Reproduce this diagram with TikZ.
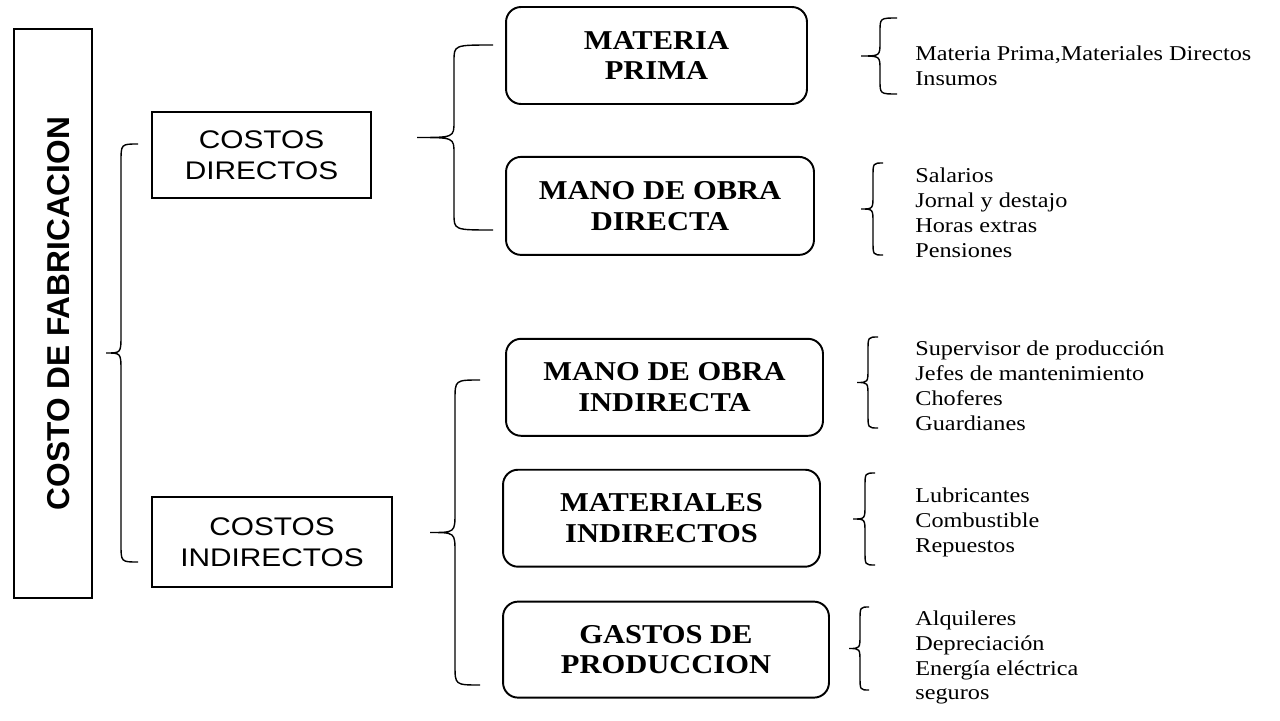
\documentclass[tikz,border=0pt]{standalone}
\usepackage{fontspec}
\setmainfont{Liberation Serif}
\newfontfamily\cajafont[FakeStretch=1.17]{Liberation Sans}
\newfontfamily\titulofont{Liberation Sans}
\newfontfamily\rubrofont[FakeStretch=1.12]{Liberation Serif}
\newfontfamily\listafont[FakeStretch=1.15]{Liberation Serif}
\usetikzlibrary{positioning}

% llave: top end, end-to-spine, spine-to-tip, curl, half length
\newcommand{\llave}[5]{\draw[llave] (#1) .. controls +(-#2,0) and +(0,-#4) .. ++(-#2,#4)
    -- ++(0,#5-2*#4) .. controls +(0,#4) and +(#3,0) .. ++(-#3,#4)
    .. controls +(#3,0) and +(0,-#4) .. ++(#3,#4)
    -- ++(0,#5-2*#4) .. controls +(0,#4) and +(-#2,0) .. ++(#2,#4);}

\begin{document}
\begin{tikzpicture}[x=0.02cm, y=-0.02cm,
    caja/.style={draw, line width=1.1pt, align=center, inner sep=0pt},
    costos/.style={caja, font=\cajafont\fontsize{14.5}{17.5}\selectfont},
    rubro/.style={caja, rounded corners=0.3cm, font=\rubrofont\bfseries\fontsize{15.5}{17.5}\selectfont},
    lista/.style={anchor=west, align=left, inner sep=0pt, font=\listafont\fontsize{12}{14.2}\selectfont},
    llave/.style={line width=0.8pt}]
        \useasboundingbox (0,0) rectangle (1280,720);
        % \draw[help lines] (0,0) grid[step=50] (1280,720);
        \node[caja, rotate=90, minimum width=11.38cm, minimum height=1.56cm, text height=19pt, text depth=0pt, font=\titulofont\bfseries\fontsize{18}{20}\selectfont] (costo) at (53,313.5) {COSTO DE FABRICACION};

        \node[costos, minimum width=4.38cm, minimum height=1.72cm] (directos) at (261.5,155) {COSTOS\\DIRECTOS};
        \node[costos, minimum width=4.8cm, minimum height=1.8cm] (indirectos) at (272,542) {COSTOS\\INDIRECTOS};

        \node[rubro, minimum width=6.02cm, minimum height=1.94cm] (mp) at (656.5,55.5) {MATERIA\\PRIMA};
        \node[rubro, minimum width=6.16cm, minimum height=1.96cm] (mod) [below = 1.02cm of mp.south west, anchor=north west] {MANO DE OBRA\\DIRECTA};
        \node[rubro, minimum width=6.34cm, minimum height=1.94cm] (moi) [below = 1.64cm of mod.south west, anchor=north west] {MANO DE OBRA\\INDIRECTA};
        \node[rubro, minimum width=6.34cm, minimum height=1.94cm] (mi) [below = 0.64cm of moi.south west, anchor=north west, xshift=-0.06cm] {MATERIALES\\INDIRECTOS};
        \node[rubro, minimum width=6.52cm, minimum height=1.92cm] (gp) [below = 0.66cm of mi.south west, anchor=north west] {GASTOS DE\\PRODUCCION};

        \node[lista] (l1) at (915,66) {Materia Prima,Materiales Directos\\Insumos};
        \node[lista] (l2) at (915,213) {Salarios\\Jornal y destajo\\Horas extras\\Pensiones};
        \node[lista] (l3) at (915,385.5) {Supervisor de producción\\Jefes de mantenimiento\\Choferes\\Guardianes};
        \node[lista] (l4) at (915,522.5) {Lubricantes\\Combustible\\Repuestos};
        \node[lista] (l5) at (915,657.5) {Alquileres\\Depreciación\\Energía eléctrica\\seguros};

        \coordinate (k0) at (138,144);
        \coordinate (k1) at (493,45);
        \coordinate (k2) at (480,380);
        \coordinate (k3) at (897,18);
        \coordinate (k4) at (883,163);
        \coordinate (k5) at (878,337);
        \coordinate (k6) at (875,473);
        \coordinate (k7) at (869,607);

        \llave{k0}{17}{15}{18}{209}
        \llave{k1}{39}{37}{16}{92.5}
        \llave{k2}{25}{25}{20}{152.5}
        \llave{k3}{17}{19}{14}{38}
        \llave{k4}{10}{12}{14}{46}
        \llave{k5}{10}{11}{14}{45.5}
        \llave{k6}{10}{12}{14}{46}
        \llave{k7}{9}{11}{14}{41.5}
    \end{tikzpicture}
\end{document}
